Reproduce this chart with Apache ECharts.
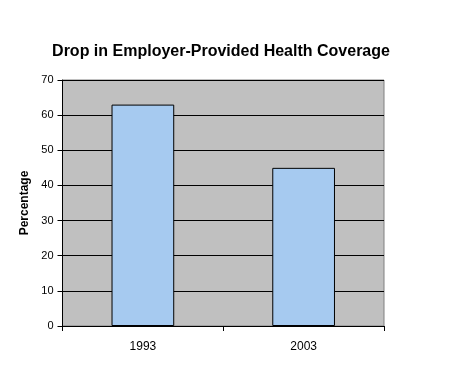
<!DOCTYPE html>
<html><head><meta charset="utf-8">
<script src="https://cdn.jsdelivr.net/npm/echarts@6/dist/echarts.min.js"></script>
<style>html,body{margin:0;padding:0;background:#fff}#c{width:450px;height:380px}</style>
</head><body><div id="c"></div>
<script>
const categories = ['1993', '2003'];
const values = [63, 45];
const titleText = 'Drop in Employer-Provided Health Coverage';
const yAxisName = 'Percentage';

const chart = echarts.init(document.getElementById('c'), null, {renderer: 'canvas'});
chart.setOption({
  animation: false,
  backgroundColor: '#ffffff',
  title: {
    text: titleText, left: 216, top: 39, textAlign: 'center',
    textStyle: {fontFamily: 'Liberation Sans, Arial', fontSize: 16, fontWeight: 'bold', color: '#000'}
  },
  grid: {left: 62.5, right: 66, top: 80, bottom: 54, show: true, backgroundColor: '#c0c0c0', borderColor: '#808080', borderWidth: 1},
  xAxis: {
    type: 'category', data: categories, boundaryGap: true,
    axisLine: {lineStyle: {color: '#000', width: 1}},
    axisTick: {show: true, alignWithLabel: false, length: 5, lineStyle: {color: '#000'}},
    axisLabel: {fontFamily: 'Liberation Sans, Arial', fontSize: 12, color: '#000', margin: 15},
    splitLine: {show: false}
  },
  yAxis: {
    type: 'value', min: 0, max: 70, interval: 10,
    name: yAxisName, nameLocation: 'middle', nameGap: 26,
    nameTextStyle: {fontFamily: 'Liberation Sans, Arial', fontSize: 12, fontWeight: 'bold', color: '#000'},
    axisLine: {show: true, lineStyle: {color: '#000', width: 1}},
    axisTick: {show: true, inside: false, length: 5, lineStyle: {color: '#000'}},
    axisLabel: {fontFamily: 'Liberation Sans, Arial', fontSize: 11, color: '#000', margin: 9},
    splitLine: {show: true, lineStyle: {color: '#000', width: 1}}
  },
  series: [{
    type: 'bar', data: values, barWidth: '39%',
    itemStyle: {color: '#a6caf0', borderColor: '#000', borderWidth: 1}
  }]
});
</script></body></html>
